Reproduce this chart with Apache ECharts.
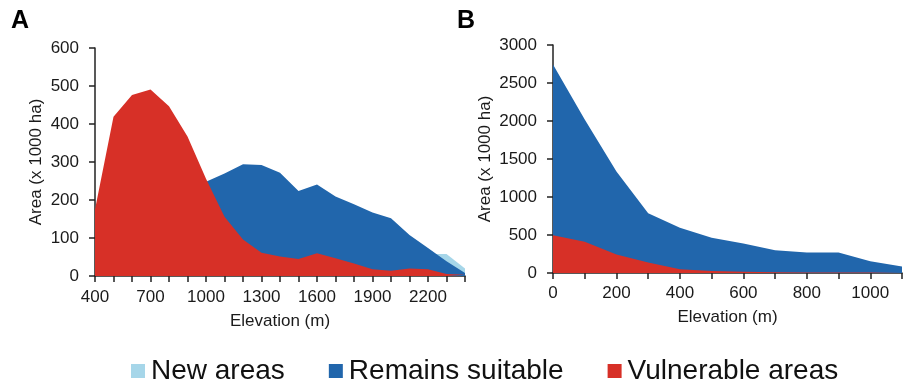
<!DOCTYPE html>
<html><head><meta charset="utf-8">
<script src="https://cdn.jsdelivr.net/npm/echarts@6/dist/echarts.min.js"></script>
<style>html,body{margin:0;padding:0;background:#fff}#c{width:905px;height:385px}</style>
</head><body><div id="c"></div>
<script>
const seriesNames = ['New areas', 'Remains suitable', 'Vulnerable areas'];
const colors = ['#a6d6e9', '#2166ac', '#d73027'];

// Panel A
const aElevation = [400,500,600,700,800,900,1000,1100,1200,1300,1400,1500,1600,1700,1800,1900,2000,2100,2200,2300,2400];
const aNew        = [null,null,null,null,null,null,null,null,null,null,null,null,null,null,null,null,null,null,58,58,20];
const aSuitable   = [null,null,null,null,null,null,248,270,294,292,272,224,241,209,189,167,152,108,74,39,8];
const aVulnerable = [175,419,476,491,447,367,256,156,96,61,51,45,60,47,33,18,14,20,18,5,3];
const aXLabels = [400,700,1000,1300,1600,1900,2200];

// Panel B
const bElevation = [0,100,200,300,400,500,600,700,800,900,1000,1100];
const bSuitable   = [2745,2020,1335,785,595,463,388,300,270,270,155,85];
const bVulnerable = [498,410,243,137,49,27,15,10,7,6,5,3];
const bXLabels = [0,200,400,600,800,1000];

const FONT = 'Liberation Sans, Arial, sans-serif';

function pairs(xs, ys) {
  const out = [];
  for (let i = 0; i < xs.length; i++) if (ys[i] !== null) out.push([xs[i], ys[i]]);
  return out;
}
function area(name, xs, ys, idx) {
  return {
    name: name, type: 'line', xAxisIndex: idx, yAxisIndex: idx,
    data: pairs(xs, ys), showSymbol: false, symbol: 'none',
    lineStyle: { width: 0 }, areaStyle: { color: colors[seriesNames.indexOf(name)], opacity: 1 },
    itemStyle: { color: colors[seriesNames.indexOf(name)] },
    silent: true, animation: false
  };
}
const axisLine = { show: true, lineStyle: { color: '#222', width: 1.5 } };
const axisTick = { show: true, length: 6, lineStyle: { color: '#222', width: 1.5 } };
const labelStyle = { color: '#1a1a1a', fontSize: 17, fontFamily: FONT };
const nameStyle = { color: '#1a1a1a', fontSize: 17, fontFamily: FONT };

const chart = echarts.init(document.getElementById('c'));
chart.setOption({
  backgroundColor: '#fff',
  animation: false,
  grid: [
    { left: 95, top: 48, width: 370, height: 228 },
    { left: 553, top: 45, width: 360, height: 228 }
  ],
  xAxis: [
    { type: 'value', gridIndex: 0, min: 400, max: 2400, interval: 100,
      axisLine: axisLine, axisTick: axisTick, splitLine: { show: false },
      axisLabel: Object.assign({ margin: 13, formatter: v => aXLabels.includes(v) ? String(v) : '' }, labelStyle),
      name: 'Elevation (m)', nameLocation: 'middle', nameGap: 37, nameTextStyle: nameStyle },
    { type: 'value', gridIndex: 1, min: 0, max: 1100, interval: 100,
      axisLine: axisLine, axisTick: axisTick, splitLine: { show: false },
      axisLabel: Object.assign({ margin: 12, formatter: v => bXLabels.includes(v) ? String(v) : '' }, labelStyle),
      name: 'Elevation (m)', nameLocation: 'middle', nameGap: 36, nameTextStyle: nameStyle }
  ],
  yAxis: [
    { type: 'value', gridIndex: 0, min: 0, max: 600, interval: 100,
      axisLine: axisLine, axisTick: axisTick, splitLine: { show: false },
      axisLabel: Object.assign({ margin: 16, formatter: v => String(v) }, labelStyle),
      name: 'Area (x 1000 ha)', nameLocation: 'middle', nameGap: 50, nameTextStyle: nameStyle },
    { type: 'value', gridIndex: 1, min: 0, max: 3000, interval: 500,
      axisLine: axisLine, axisTick: axisTick, splitLine: { show: false },
      axisLabel: Object.assign({ margin: 16, formatter: v => String(v) }, labelStyle),
      name: 'Area (x 1000 ha)', nameLocation: 'middle', nameGap: 59, nameTextStyle: nameStyle }
  ],
  legend: {
    left: 126, top: 352, icon: 'rect', itemWidth: 14, itemHeight: 14, itemGap: 44,
    data: seriesNames, selectedMode: false,
    textStyle: { color: '#111', fontSize: 28, fontFamily: FONT, padding: [0, 0, 0, 1] }
  },
  graphic: [
    { type: 'text', left: 11, top: 9, style: { text: 'A', font: 'bold 25px ' + FONT, fill: '#000' } },
    { type: 'text', left: 457, top: 9, style: { text: 'B', font: 'bold 25px ' + FONT, fill: '#000' } }
  ],
  series: [
    area('New areas', aElevation, aNew, 0),
    area('Remains suitable', aElevation, aSuitable, 0),
    area('Vulnerable areas', aElevation, aVulnerable, 0),
    area('Remains suitable', bElevation, bSuitable, 1),
    area('Vulnerable areas', bElevation, bVulnerable, 1)
  ]
});
</script>
</body></html>
